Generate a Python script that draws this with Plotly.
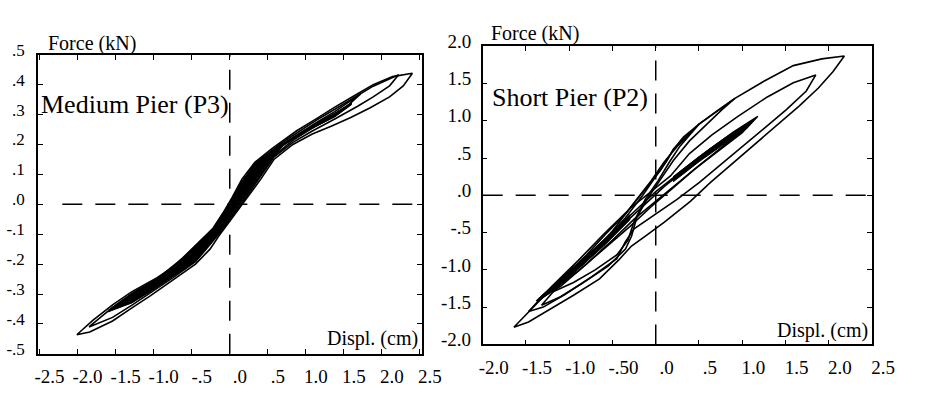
import plotly.graph_objects as go

# ---------------- Medium Pier (P3) : displacement (cm) / force (kN) ----------------
P3_L1_X = [-2.01, -1.80, -1.54, -1.29, -0.96, -0.745, -0.58, -0.41, -0.22, -0.09, 0.03, 0.16, 0.33, 0.55, 0.71,
           0.875, 1.13, 1.38, 1.63, 1.885, 2.14, 2.40,
           2.28, 2.10, 1.84, 1.59, 1.34, 1.085, 0.83, 0.58, 0.41, 0.24, 0.12, -0.01, -0.135, -0.26, -0.45,
           -0.745, -1.04, -1.29, -1.54, -1.84, -2.01]
P3_L1_Y = [-0.436, -0.388, -0.336, -0.293, -0.246, -0.210, -0.170, -0.128, -0.080, -0.030, 0.022, 0.084, 0.140,
           0.185, 0.215, 0.245, 0.285, 0.325, 0.362, 0.400, 0.427, 0.438,
           0.396, 0.359, 0.322, 0.290, 0.262, 0.235, 0.200, 0.150, 0.085, 0.025, -0.018, -0.060, -0.103, -0.150,
           -0.200, -0.253, -0.305, -0.347, -0.390, -0.427, -0.436]

P3_L2_X = [-1.85, -1.54, -1.29, -0.96, -0.58, -0.22, 0.03, 0.33, 0.71, 1.13, 1.38, 1.63, 1.885, 2.22,
           2.10, 1.885, 1.675, 1.38, 1.085, 0.83, 0.58, 0.41, 0.12, -0.135, -0.45, -0.745, -1.04, -1.29, -1.54, -1.85]
P3_L2_Y = [-0.410, -0.345, -0.300, -0.250, -0.172, -0.083, 0.018, 0.136, 0.210, 0.280, 0.318, 0.356, 0.395, 0.433,
           0.396, 0.359, 0.327, 0.285, 0.245, 0.207, 0.158, 0.095, -0.010, -0.097, -0.192, -0.245, -0.297, -0.338,
           -0.378, -0.410]

P3_L3_X = [-1.55, -1.29, -0.96, -0.58, -0.22, 0.03, 0.33, 0.71, 1.13, 1.38, 1.72,
           1.50, 1.30, 1.085, 0.83, 0.58, 0.41, 0.12, -0.135, -0.45, -0.745, -1.04, -1.29, -1.55]
P3_L3_Y = [-0.350, -0.305, -0.252, -0.176, -0.086, 0.015, 0.130, 0.203, 0.272, 0.310, 0.369,
           0.318, 0.285, 0.255, 0.214, 0.163, 0.100, -0.005, -0.093, -0.188, -0.240, -0.290, -0.328, -0.350]

P3_CORE_X = [-1.60, -1.29, -0.96, -0.745, -0.58, -0.41, -0.22, -0.09, 0.03, 0.16, 0.33, 0.55, 0.71, 0.875, 1.13,
             1.38, 1.60,
             1.60, 1.38, 1.13, 0.875, 0.71, 0.58, 0.41, 0.24, 0.12, -0.01, -0.135, -0.26, -0.45, -0.745, -1.04,
             -1.29, -1.60]
P3_CORE_Y = [-0.355, -0.298, -0.250, -0.214, -0.175, -0.133, -0.085, -0.035, 0.017, 0.078, 0.133, 0.178, 0.205,
             0.232, 0.270, 0.305, 0.340,
             0.333, 0.292, 0.260, 0.224, 0.197, 0.165, 0.105, 0.045, 0.000, -0.045, -0.090, -0.135, -0.185,
             -0.240, -0.290, -0.330, -0.360]

# ---------------- Short Pier (P2) ----------------
P2_R1_X = [-1.64, -1.47, -1.29, -1.06, -0.80, -0.58, -0.35, -0.205, -0.055, 0.057, 0.13, 0.206, 0.32, 0.505, 0.73,
           0.915, 1.25, 1.59, 1.92, 2.18,
           2.05, 1.88, 1.66, 1.38, 1.12, 0.88, 0.63, 0.40, 0.10, -0.10, -0.28, -0.43, -0.65, -0.95, -1.25, -1.47,
           -1.64]
P2_R1_Y = [-1.77, -1.56, -1.35, -1.09, -0.80, -0.52, -0.25, -0.04, 0.17, 0.34, 0.47, 0.62, 0.75, 0.96, 1.15,
           1.30, 1.53, 1.74, 1.83, 1.87,
           1.66, 1.44, 1.20, 0.92, 0.65, 0.42, 0.17, -0.08, -0.36, -0.53, -0.68, -0.87, -1.12, -1.34, -1.55, -1.70,
           -1.77]

P2_R2_X = [-1.47, -1.20, -0.90, -0.60, -0.30, -0.05, 0.17, 0.39, 0.65, 0.95, 1.29, 1.59, 1.85,
           1.74, 1.51, 1.25, 0.99, 0.73, 0.505, 0.25, 0.00, -0.25, -0.35, -0.45, -0.75, -1.05, -1.30, -1.47]
P2_R2_Y = [-1.56, -1.22, -0.88, -0.52, -0.18, 0.06, 0.26, 0.56, 0.81, 1.06, 1.32, 1.51, 1.615,
           1.40, 1.15, 0.895, 0.64, 0.39, 0.175, -0.05, -0.25, -0.45, -0.62, -0.85, -1.10, -1.33, -1.50, -1.56]

P2_R3_X = [-1.32, -1.10, -0.80, -0.50, -0.25, -0.05, 0.10, 0.25, 0.505, 0.73, 0.915,
           0.766, 0.617, 0.39, 0.206, 0.057, -0.10, -0.22, -0.28, -0.35, -0.55, -0.85, -1.10, -1.32]
P2_R3_Y = [-1.475, -1.18, -0.85, -0.48, -0.10, 0.20, 0.45, 0.66, 0.96, 1.15, 1.30,
           1.15, 0.98, 0.73, 0.47, 0.22, -0.05, -0.30, -0.55, -0.72, -0.95, -1.18, -1.36, -1.475]

P2_R4_X = [-1.20, -0.90, -0.60, -0.35, -0.15, 0.00, 0.13, 0.206, 0.32, 0.505,
           0.40, 0.28, 0.16, 0.03, -0.12, -0.25, -0.32, -0.45, -0.70, -0.95, -1.20]
P2_R4_Y = [-1.30, -0.98, -0.62, -0.30, 0.00, 0.26, 0.47, 0.62, 0.78, 0.96,
           0.82, 0.66, 0.45, 0.20, -0.05, -0.35, -0.60, -0.80, -1.00, -1.17, -1.30]

P2_R5_X = [-1.38, -1.10, -0.80, -0.50, -0.25, 0.00, 0.30, 0.60, 0.90, 1.18,
           1.05, 0.80, 0.50, 0.25, 0.00, -0.25, -0.50, -0.80, -1.10, -1.38]
P2_R5_Y = [-1.42, -1.12, -0.82, -0.50, -0.22, 0.05, 0.33, 0.60, 0.85, 1.06,
           0.90, 0.68, 0.40, 0.16, -0.08, -0.32, -0.60, -0.92, -1.22, -1.42]

P2_R6_X = [-1.25, -1.00, -0.70, -0.40, -0.15, 0.10, 0.40, 0.70, 1.00, 1.12,
           1.00, 0.75, 0.45, 0.20, -0.05, -0.30, -0.60, -0.90, -1.25]
P2_R6_Y = [-1.32, -1.05, -0.74, -0.42, -0.14, 0.12, 0.40, 0.66, 0.90, 1.00,
           0.84, 0.62, 0.35, 0.10, -0.15, -0.42, -0.72, -1.02, -1.32]

P2_CORE_UP_X = [0.20, 0.50, 0.80, 1.05, 1.05, 0.80, 0.50, 0.20]
P2_CORE_UP_Y = [0.25, 0.52, 0.77, 0.95, 0.90, 0.70, 0.45, 0.18]
P2_CORE_LO_X = [-1.35, -1.00, -0.60, -0.30, -0.30, -0.60, -1.00, -1.35]
P2_CORE_LO_Y = [-1.38, -1.02, -0.60, -0.26, -0.33, -0.68, -1.10, -1.42]

# ---------------- axes / text ----------------
P3_XTICKS = [-2.5, -2.0, -1.5, -1.0, -0.5, 0.0, 0.5, 1.0, 1.5, 2.0, 2.5]
P3_XLABELS = ["-2.5", "-2.0", "-1.5", "-1.0", "-.5", ".0", ".5", "1.0", "1.5", "2.0", "2.5"]
P3_YTICKS = [0.5, 0.4, 0.3, 0.2, 0.1, 0.0, -0.1, -0.2, -0.3, -0.4, -0.5]
P3_YLABELS = [".5", ".4", ".3", ".2", ".1", ".0", "-.1", "-.2", "-.3", "-.4", "-.5"]
P2_XTICKS = [-2.0, -1.5, -1.0, -0.5, 0.0, 0.5, 1.0, 1.5, 2.0, 2.5]
P2_XLABELS = ["-2.0", "-1.5", "-1.0", "-.50", ".0", ".5", "1.0", "1.5", "2.0", "2.5"]
P2_YTICKS = [2.0, 1.5, 1.0, 0.5, 0.0, -0.5, -1.0, -1.5, -2.0]
P2_YLABELS = ["2.0", "1.5", "1.0", ".5", ".0", "-.5", "-1.0", "-1.5", "-2.0"]

SERIF = "Liberation Serif, Times New Roman, serif"
LINE = dict(color="black", width=1.6)

fig = go.Figure()

def add_core(x, y, xa, ya):
    fig.add_trace(go.Scatter(x=x, y=y, xaxis=xa, yaxis=ya, mode="lines", fill="toself",
                             fillcolor="black", line=dict(color="black", width=1),
                             hoverinfo="skip", showlegend=False))

def add_loop(x, y, xa, ya):
    fig.add_trace(go.Scatter(x=x, y=y, xaxis=xa, yaxis=ya, mode="lines", line=LINE,
                             hoverinfo="skip", showlegend=False))

add_core(P3_CORE_X, P3_CORE_Y, "x", "y")
for lx, ly in [(P3_L1_X, P3_L1_Y), (P3_L2_X, P3_L2_Y), (P3_L3_X, P3_L3_Y)]:
    add_loop(lx, ly, "x", "y")

add_core(P2_CORE_UP_X, P2_CORE_UP_Y, "x2", "y2")
add_core(P2_CORE_LO_X, P2_CORE_LO_Y, "x2", "y2")
for lx, ly in [(P2_R1_X, P2_R1_Y), (P2_R2_X, P2_R2_Y), (P2_R3_X, P2_R3_Y), (P2_R4_X, P2_R4_Y),
               (P2_R5_X, P2_R5_Y), (P2_R6_X, P2_R6_Y)]:
    add_loop(lx, ly, "x2", "y2")

W, H = 930, 393

def fx(px):
    return px / W

def fy(py):
    return 1 - py / H

def axis_common(size):
    return dict(showgrid=False, zeroline=False, showline=True, linecolor="black", linewidth=1.5,
                mirror="ticks", ticks="inside", ticklen=5, tickwidth=1.2, tickcolor="black",
                tickfont=dict(family=SERIF, size=size, color="black"), fixedrange=True)

fig.update_layout(
    width=W, height=H, margin=dict(l=0, r=0, t=0, b=0),
    paper_bgcolor="white", plot_bgcolor="white", showlegend=False,
    xaxis=dict(axis_common(19), domain=[fx(35), fx(430)], range=[-2.52, 2.52], anchor="y",
               tickmode="array", tickvals=P3_XTICKS, ticktext=P3_XLABELS,
               ticklabelshift=10, ticklabelstandoff=5),
    yaxis=dict(axis_common(17), domain=[fy(358), fy(42)], range=[-0.5, 0.5], anchor="x",
               tickmode="array", tickvals=P3_YTICKS, ticktext=P3_YLABELS,
               ticklabelshift=-5, ticklabelstandoff=8),
    xaxis2=dict(axis_common(19), domain=[fx(493), fx(894)], range=[-2.0, 2.5], anchor="y2",
                tickmode="array", tickvals=P2_XTICKS, ticktext=P2_XLABELS,
                ticklabelshift=11, ticklabelstandoff=5),
    yaxis2=dict(axis_common(19), domain=[fy(348), fy(33)], range=[-2.0, 2.0], anchor="x2",
                tickmode="array", tickvals=P2_YTICKS, ticktext=P2_YLABELS,
                ticklabelshift=-5, ticklabelstandoff=6),
)

DASH = dict(color="black", width=1.5, dash="20px,13px")
fig.add_shape(type="line", xref="x", yref="y", x0=0, x1=0, y0=-0.5, y1=0.5, line=DASH)
fig.add_shape(type="line", xref="x", yref="y", x0=-2.2, x1=2.52, y0=0, y1=0, line=DASH)
fig.add_shape(type="line", xref="x2", yref="y2", x0=0, x1=0, y0=-2.0, y1=2.0, line=DASH)
fig.add_shape(type="line", xref="x2", yref="y2", x0=-2.0, x1=2.5, y0=0, y1=0, line=DASH)

def label(text, xpx, ypx, size, anchor="center"):
    fig.add_annotation(text=text, xref="paper", yref="paper", x=fx(xpx), y=fy(ypx),
                       xanchor=anchor, yanchor="middle", showarrow=False,
                       font=dict(family=SERIF, size=size, color="black"))

label("Force (kN)", 91, 30, 20)
label("Force (kN)", 547, 20, 20)
label("Displ. (cm)", 428, 342, 20, "right")
label("Displ. (cm)", 892, 333, 20, "right")
label("Medium Pier (P3)", 36, 95, 26, "left")
label("Short Pier (P2)", 501, 87, 26, "left")

# remove the browser's default 8px body margin so the figure sits at the page origin
fig.write_html("out.html", config={"displayModeBar": False},
               post_script="document.body.style.margin='0px';")
